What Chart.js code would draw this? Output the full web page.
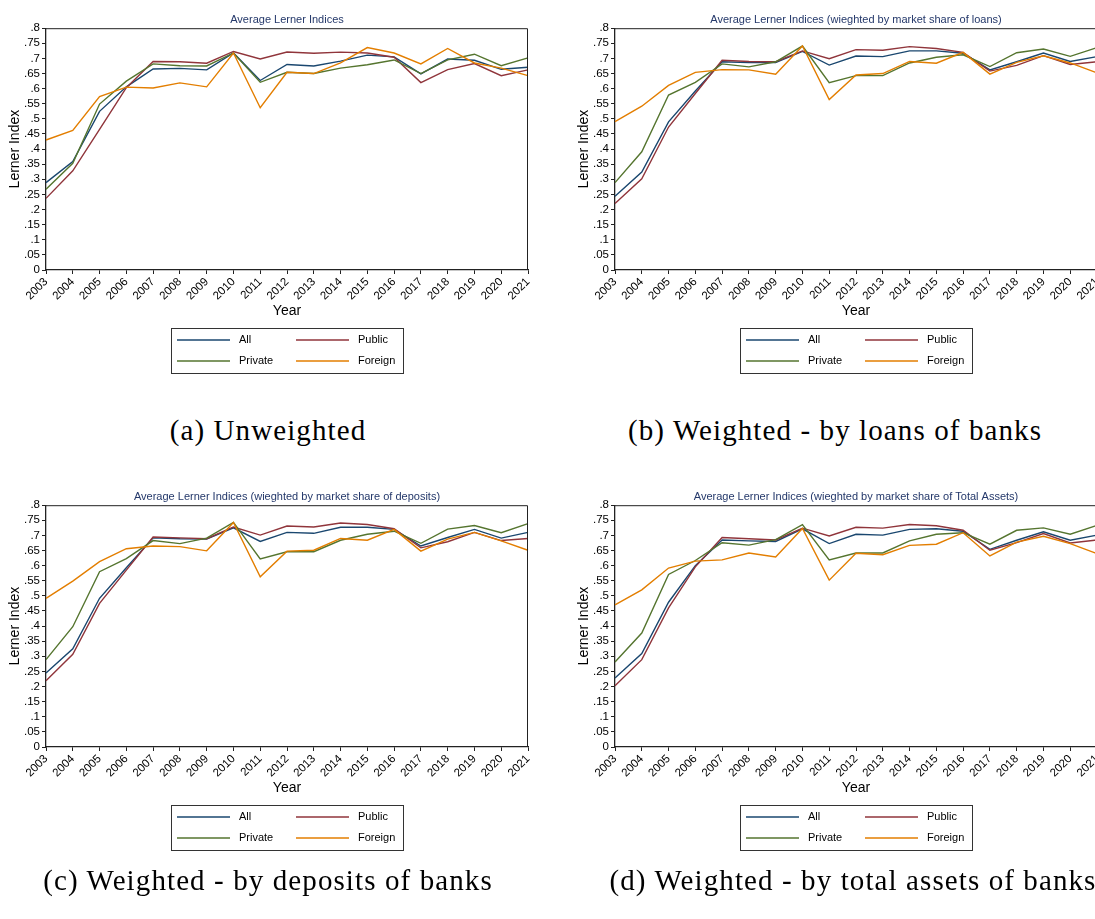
<!DOCTYPE html>
<html>
<head>
<meta charset="utf-8">
<script src="https://cdn.jsdelivr.net/npm/chart.js@4/dist/chart.umd.min.js"></script>
<style>
  html, body { margin: 0; padding: 0; background: #fff; }
  body { width: 1095px; height: 919px; overflow: hidden; position: relative; }
  canvas { position: absolute; }
  .cap { position: absolute; text-align: center; font-family: "Liberation Serif", "DejaVu Serif", serif; font-size: 29px; line-height: 29px; letter-spacing: 1.1px; color: #000; white-space: nowrap; }
</style>
</head>
<body>
<canvas id="ca" width="545" height="390" style="left:0px;top:0px"></canvas>
<canvas id="cb" width="545" height="390" style="left:569px;top:0px"></canvas>
<canvas id="cc" width="545" height="390" style="left:0px;top:477px"></canvas>
<canvas id="cd" width="545" height="390" style="left:569px;top:477px"></canvas>
<div class="cap" style="left:0px;width:536px;top:416px">(a) Unweighted</div>
<div class="cap" style="left:569px;width:532px;top:416px">(b) Weighted - by loans of banks</div>
<div class="cap" style="left:0px;width:536px;top:866px">(c) Weighted - by deposits of banks</div>
<div class="cap" style="left:578px;width:550px;top:866px">(d) Weighted - by total assets of banks</div>
<script>
const years = ['2003','2004','2005','2006','2007','2008','2009','2010','2011','2012','2013','2014','2015','2016','2017','2018','2019','2020','2021'];
const seriesNames = ['All', 'Public', 'Private', 'Foreign'];
const seriesColors = ['#1a476f', '#90353b', '#55752f', '#e37e00'];

// (a) Unweighted
const unwAll     = [0.289,0.359,0.525,0.606,0.665,0.667,0.662,0.718,0.627,0.680,0.675,0.691,0.711,0.705,0.649,0.698,0.694,0.664,0.671];
const unwPublic  = [0.237,0.328,0.465,0.603,0.690,0.689,0.684,0.723,0.698,0.721,0.717,0.721,0.718,0.704,0.620,0.663,0.683,0.643,0.662];
const unwPrivate = [0.267,0.353,0.549,0.625,0.682,0.676,0.675,0.718,0.621,0.654,0.650,0.668,0.679,0.695,0.650,0.695,0.714,0.676,0.702];
const unwForeign = [0.430,0.462,0.574,0.605,0.602,0.619,0.606,0.718,0.537,0.654,0.650,0.685,0.736,0.718,0.682,0.733,0.685,0.668,0.643];

// (b) Weighted by loans
const loanAll     = [0.244,0.324,0.490,0.592,0.689,0.686,0.686,0.723,0.678,0.708,0.706,0.725,0.725,0.717,0.662,0.689,0.718,0.690,0.706];
const loanPublic  = [0.220,0.302,0.473,0.584,0.694,0.690,0.689,0.725,0.699,0.729,0.727,0.739,0.733,0.720,0.658,0.677,0.709,0.680,0.689];
const loanPrivate = [0.289,0.391,0.579,0.621,0.682,0.672,0.689,0.741,0.620,0.643,0.643,0.685,0.704,0.712,0.673,0.719,0.731,0.707,0.736];
const loanForeign = [0.491,0.542,0.611,0.654,0.663,0.662,0.648,0.741,0.564,0.645,0.650,0.690,0.684,0.720,0.648,0.687,0.709,0.685,0.652];

// (c) Weighted by deposits
const depAll     = [0.245,0.325,0.492,0.593,0.692,0.689,0.688,0.725,0.680,0.710,0.707,0.727,0.727,0.720,0.665,0.693,0.720,0.691,0.710];
const depPublic  = [0.219,0.307,0.475,0.585,0.695,0.692,0.689,0.728,0.701,0.731,0.728,0.741,0.736,0.722,0.659,0.679,0.710,0.683,0.690];
const depPrivate = [0.289,0.398,0.580,0.623,0.683,0.673,0.691,0.743,0.622,0.646,0.646,0.684,0.704,0.714,0.674,0.721,0.733,0.709,0.739];
const depForeign = [0.492,0.549,0.613,0.656,0.665,0.663,0.649,0.743,0.563,0.648,0.651,0.690,0.684,0.720,0.648,0.688,0.710,0.682,0.651];

// (d) Weighted by total assets
const astAll     = [0.228,0.309,0.479,0.600,0.685,0.682,0.680,0.722,0.673,0.704,0.701,0.720,0.722,0.714,0.654,0.684,0.712,0.684,0.701];
const astPublic  = [0.203,0.289,0.460,0.596,0.693,0.689,0.685,0.724,0.698,0.727,0.724,0.736,0.732,0.717,0.651,0.676,0.706,0.675,0.685];
const astPrivate = [0.281,0.377,0.571,0.617,0.676,0.668,0.686,0.736,0.619,0.642,0.642,0.682,0.704,0.709,0.671,0.717,0.725,0.704,0.733];
const astForeign = [0.470,0.520,0.592,0.615,0.619,0.642,0.629,0.723,0.552,0.641,0.636,0.667,0.671,0.709,0.632,0.678,0.697,0.673,0.640];

const FONT = '"Liberation Sans", Arial, Helvetica, sans-serif';

const framePlugin = {
  id: 'frame',
  afterDatasetsDraw(chart) {
    const {ctx, chartArea: a} = chart;
    ctx.save();
    ctx.strokeStyle = '#222';
    ctx.lineWidth = 1;
    ctx.beginPath();
    ctx.moveTo(a.left, a.top + 0.5);
    ctx.lineTo(a.right - 0.5, a.top + 0.5);
    ctx.lineTo(a.right - 0.5, a.bottom);
    ctx.stroke();
    ctx.restore();
  }
};

const boxLegendPlugin = {
  id: 'boxLegend',
  afterDraw(chart) {
    const {ctx, chartArea: a} = chart;
    const cx = (a.left + a.right) / 2;
    const bw = 232, bh = 45;
    const bx = Math.round(cx - bw / 2), by = Math.round(a.bottom + 58);
    ctx.save();
    ctx.strokeStyle = '#333';
    ctx.lineWidth = 1;
    ctx.strokeRect(bx + 0.5, by + 0.5, bw, bh);
    ctx.font = '11px ' + FONT;
    ctx.fillStyle = '#000';
    ctx.textBaseline = 'middle';
    ctx.textAlign = 'left';
    chart.data.datasets.forEach((ds, i) => {
      const col = i % 2, row = Math.floor(i / 2);
      const x0 = bx + 6 + col * 119;
      const y0 = by + 12 + row * 21;
      ctx.strokeStyle = ds.borderColor;
      ctx.lineWidth = 1.4;
      ctx.beginPath();
      ctx.moveTo(x0, y0);
      ctx.lineTo(x0 + 53, y0);
      ctx.stroke();
      ctx.fillText(ds.label, x0 + 62, y0);
    });
    ctx.restore();
  }
};

function makeChart(id, title, all, pub, priv, forn) {
  const values = [all, pub, priv, forn];
  const datasets = values.map((v, i) => ({
    label: seriesNames[i],
    data: v,
    borderColor: seriesColors[i],
    backgroundColor: seriesColors[i],
    borderWidth: 1.4,
    pointRadius: 0,
    tension: 0,
    fill: false,
    order: 4 - i
  }));
  return new Chart(document.getElementById(id), {
    type: 'line',
    data: { labels: years, datasets },
    options: {
      responsive: false,
      animation: false,
      devicePixelRatio: 1,
      layout: { padding: { left: 0, right: 17, top: 0, bottom: 70 } },
      plugins: {
        legend: { display: false },
        tooltip: { enabled: false },
        title: {
          display: true,
          text: title,
          fullSize: false,
          color: '#24386a',
          font: { family: FONT, size: 11, weight: 'normal' },
          padding: { top: 13, bottom: 2 }
        }
      },
      scales: {
        x: {
          type: 'category',
          offset: false,
          grid: { display: true, drawOnChartArea: false, drawTicks: true, tickLength: 4, color: '#222' },
          border: { display: true, color: '#222', width: 1.3 },
          ticks: {
            autoSkip: false, minRotation: 45, maxRotation: 45, padding: 1,
            color: '#000', font: { family: FONT, size: 11.5 }
          },
          title: { display: true, text: 'Year', color: '#000', font: { family: FONT, size: 14 }, padding: { top: 0, bottom: 0 } },
          afterFit(scale) { scale.height = 50; scale.paddingLeft = 0; scale.paddingRight = 0; }
        },
        y: {
          min: 0, max: 0.8,
          grid: { display: true, drawOnChartArea: false, drawTicks: true, tickLength: 4, color: '#222' },
          border: { display: true, color: '#222', width: 1.3 },
          ticks: {
            autoSkip: false, stepSize: 0.05, padding: 2, color: '#000', font: { family: FONT, size: 11.5 },
            callback(v) {
              const r = Math.round(v * 100) / 100;
              if (r === 0) return '0';
              return String(r).replace(/^0/, '');
            }
          },
          title: { display: true, text: 'Lerner Index', color: '#000', font: { family: FONT, size: 14 }, padding: { top: 7, bottom: 0 } },
          afterFit(scale) { scale.width = 46; }
        }
      }
    },
    plugins: [framePlugin, boxLegendPlugin]
  });
}

makeChart('ca', 'Average Lerner Indices', unwAll, unwPublic, unwPrivate, unwForeign);
makeChart('cb', 'Average Lerner Indices (wieghted by market share of loans)', loanAll, loanPublic, loanPrivate, loanForeign);
makeChart('cc', 'Average Lerner Indices (wieghted by market share of deposits)', depAll, depPublic, depPrivate, depForeign);
makeChart('cd', 'Average Lerner Indices (wieghted by market share of Total Assets)', astAll, astPublic, astPrivate, astForeign);
</script>
</body>
</html>
